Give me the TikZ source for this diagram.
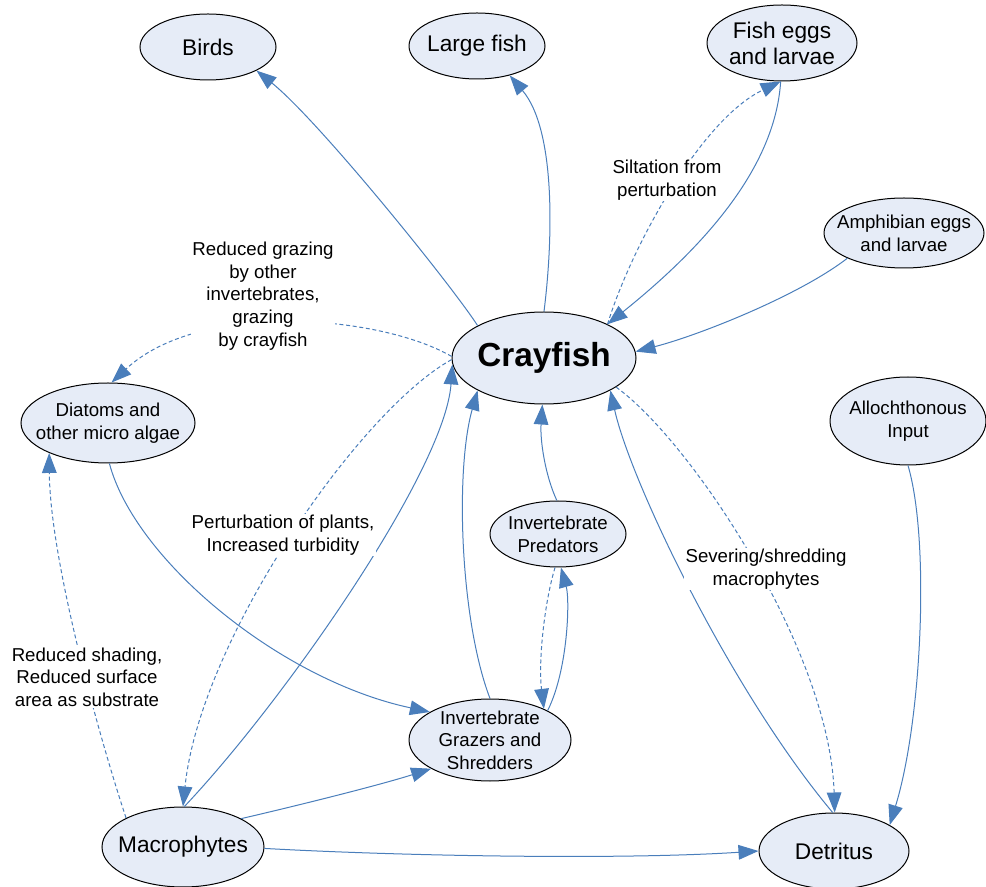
\documentclass[tikz,border=0pt]{standalone}
\usepackage{fontspec}
\setmainfont{Liberation Sans}
\usetikzlibrary{shapes.geometric,arrows.meta}
\definecolor{linkblue}{HTML}{4A7EBB}
\definecolor{nodefill}{HTML}{E6ECF7}
\begin{document}
\begin{tikzpicture}[x=0.75pt,y=-0.75pt,
  blob/.style={ellipse, draw=black, line width=0.75pt, fill=nodefill, inner sep=0pt},
  bigtext/.style={font=\fontsize{17}{19.5}\selectfont, align=center},
  smalltext/.style={font=\fontsize{14}{17}\selectfont, align=center},
  link/.style={draw=linkblue, line width=0.75pt, -{Triangle[length=15pt,width=11pt]}},
  hint/.style={link, dash pattern=on 3pt off 2pt},
  note/.style={fill=white, inner sep=1pt, align=center, font=\fontsize{14}{17}\selectfont},
]
\useasboundingbox (0,0) rectangle (986,887);

% food-web members
\node[blob, minimum width=102pt, minimum height=49.5pt, label={[bigtext]center:Birds}] (birds) at (208,47) {};
\node[blob, minimum width=102pt, minimum height=49.5pt, label={[bigtext]center:Large fish}] (largefish) at (477,46) {};
\node[blob, minimum width=112.5pt, minimum height=57pt, label={[bigtext]center:{Fish eggs\\and larvae}}] (fisheggs) at (782,43) {};
\node[blob, minimum width=120pt, minimum height=52.5pt, label={[smalltext]center:{Amphibian eggs\\and larvae}}] (amphibian) at (904,233) {};
\node[blob, minimum width=138pt, minimum height=69pt, label={[font=\fontsize{25}{30}\selectfont\bfseries]center:Crayfish}] (crayfish) at (544,358) {};
\node[blob, minimum width=130.5pt, minimum height=60pt, label={[smalltext]center:{Diatoms and\\other micro algae}}] (diatoms) at (108,423) {};
\node[blob, minimum width=117pt, minimum height=66pt, label={[smalltext]center:{Allochthonous\\Input}}] (alloch) at (908,421) {};
\node[blob, minimum width=102pt, minimum height=49.5pt, label={[smalltext]center:{Invertebrate\\Predators}}] (predators) at (558,534) {};
\node[blob, minimum width=121.5pt, minimum height=61.5pt, label={[smalltext]center:{Invertebrate\\Grazers and\\Shredders}}] (grazers) at (490,740) {};
\node[blob, minimum width=121.5pt, minimum height=60pt, label={[bigtext]center:Macrophytes}] (macro) at (183,847) {};
\node[blob, minimum width=112.5pt, minimum height=57pt, label={[bigtext]center:Detritus}] (detritus) at (834,851) {};

% feeding links (solid) and indirect effects (dashed)
\draw[link] (crayfish.154) .. controls (450,283) and (318,120) .. (birds.-26);
\draw[link] (crayfish.90) .. controls (553,240) and (556,130) .. (largefish.-42);
\draw[hint] (crayfish.28) .. controls (630,250) and (700,120) .. (fisheggs.-92);
\draw[link] (fisheggs.-92) .. controls (775,170) and (700,250) .. (crayfish.28);
\draw[link] (amphibian.-156) .. controls (800,295) and (700,335) .. (crayfish.4);
\draw[hint] (crayfish.179) .. controls (380,315) and (200,300) .. (diatoms.85);
\draw[link] (macro.88) .. controls (285,700) and (445,470) .. (crayfish.184);
\draw[hint] (crayfish.181) .. controls (360,410) and (200,640) .. (macro.90);
\draw[link] (diatoms.-88) .. controls (135,560) and (280,680) .. (grazers.155);
\draw[hint] (macro.153) .. controls (100,740) and (50,560) .. (diatoms.207);
\draw[link] (grazers.90) .. controls (460,620) and (455,470) .. (crayfish.206);
\draw[link] (predators.92) .. controls (545,475) and (540,440) .. (crayfish.-92);
\draw[hint] (predators.-95) .. controls (545,600) and (538,660) .. (grazers.30);
\draw[link] (grazers.27) .. controls (568,670) and (570,600) .. (predators.-85);
\draw[link] (macro.26) .. controls (300,805) and (380,785) .. (grazers.206);
\draw[link] (macro.-1) .. controls (400,856) and (620,860) .. (detritus.180);
\draw[link] (detritus.92) .. controls (730,690) and (630,480) .. (crayfish.-26);
\draw[hint] (crayfish.-22) .. controls (690,440) and (830,650) .. (detritus.89);
\draw[link] (alloch.-90) .. controls (930,540) and (922,720) .. (detritus.25);

% effect labels
\node[note] (silt) at (667,180) {Siltation from\\perturbation};
\node[note] (graze) at (263,296) {Reduced grazing\\by other\\invertebrates,\\grazing\\by crayfish};
\node[note] (turb) at (283,535) {Perturbation of plants,\\Increased turbidity};
\node[note] (shade) at (87,677) {Reduced shading,\\Reduced surface\\area as substrate};
\node[note] (sever) at (766,569) {Severing/shredding\\macrophytes};
\end{tikzpicture}
\end{document}
